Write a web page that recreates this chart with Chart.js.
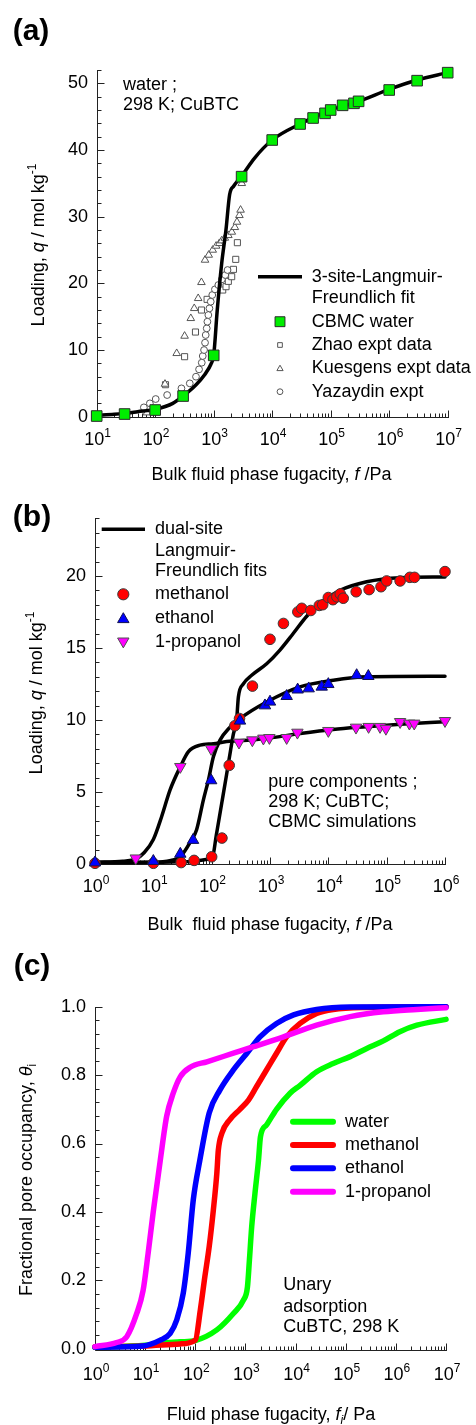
<!DOCTYPE html>
<html>
<head>
<meta charset="utf-8">
<title>CuBTC adsorption isotherms</title>
<script src="https://cdn.jsdelivr.net/npm/chart.js@4.4.1/dist/chart.umd.min.js"></script>
<style>
  html, body { margin: 0; padding: 0; background: #fff; }
  #page { position: relative; width: 476px; height: 1425px; overflow: hidden; }
  canvas { position: absolute; left: 0; }
</style>
</head>
<body>
<div id="page">
  <canvas id="chartA" width="476" height="500" style="top:0"></canvas>
  <canvas id="chartB" width="476" height="480" style="top:480px"></canvas>
  <canvas id="chartC" width="476" height="485" style="top:940px"></canvas>
</div>
<script>
// ---- (a) water in CuBTC ----
const aFitF = [10, 20, 30, 50, 100, 200, 300, 500, 700, 900, 1000, 1150, 1370, 1620, 1870, 2200, 3000, 5000, 10000, 30000, 100000, 300000, 1000000, 3000000, 10000000];
const aFitQ = [0.2, 0.35, 0.5, 0.75, 1.1, 2.0, 3.1, 4.8, 6.3, 7.9, 9.2, 16.0, 23.0, 28.0, 33.3, 34.6, 36.1, 38.8, 41.5, 43.9, 46.0, 47.3, 49.1, 50.5, 51.6];
const cbmcF = [10, 30, 100, 300, 1000, 3000, 10000, 30000, 50000, 80000, 100000, 160000, 250000, 300000, 1000000, 3000000, 10000000];
const cbmcQ = [0.1, 0.4, 1.0, 3.1, 9.2, 36.0, 41.5, 43.9, 44.8, 45.5, 46.0, 46.7, 47.0, 47.3, 49.0, 50.4, 51.6];
const zhaoF = [150, 318, 488, 617, 771, 1425, 1450, 1625, 1780, 2030, 2175, 2380, 2540];
const zhaoQ = [4.8, 9.0, 12.7, 16.0, 17.6, 19.0, 21.2, 19.5, 20.3, 21.0, 22.1, 23.6, 26.1];
const kuesF = [30, 72, 147, 233, 318, 406, 465, 543, 617, 711, 822, 962, 1100, 1250, 1370, 1550, 1780, 2040, 2300, 2500, 2750, 2880, 3020];
const kuesQ = [0.3, 0.6, 4.9, 9.5, 12.1, 14.75, 16.25, 17.75, 20.15, 23.5, 24.25, 25.0, 25.6, 26.0, 26.4, 26.8, 27.2, 27.7, 28.4, 29.2, 30.2, 31.0, 35.0];
const yazF = [32, 64, 81, 102, 160, 281, 390, 498, 562, 625, 650, 684, 711, 730, 760, 780, 810, 845, 890, 945, 1050, 1200, 1380, 1575, 1725];
const yazQ = [0.35, 1.4, 2.0, 2.65, 3.25, 4.25, 5.0, 6.0, 7.1, 8.1, 9.1, 10.0, 11.1, 12.25, 13.25, 14.25, 15.25, 16.25, 17.25, 18.25, 19.1, 19.75, 20.6, 21.25, 22.0];
const aYTicks = [0, 10, 20, 30, 40, 50];
const aXDecades = [1, 2, 3, 4, 5, 6, 7];

// ---- (b) alcohols, dual-site fits + CBMC ----
const methFitF = [1, 10, 50, 90, 104, 120, 150, 180, 210, 235, 268, 287, 349, 485, 877, 1480, 2500, 4260, 7200, 15800, 45400, 170000, 1000000];
const methFitQ = [0.1, 0.12, 0.2, 0.35, 0.5, 2.0, 4.3, 6.2, 7.85, 9.0, 10.0, 11.6, 12.5, 13.1, 13.9, 14.85, 16.0, 17.2, 18.1, 19.0, 19.6, 19.88, 19.93];
const ethFitF = [1, 10, 20, 29, 45, 55, 72, 88, 107, 139, 206, 306, 877, 3250, 12200, 45000, 1000000];
const ethFitQ = [0.1, 0.12, 0.25, 0.5, 1.66, 2.36, 4.44, 5.83, 7.44, 8.6, 9.5, 10.1, 11.25, 12.3, 12.76, 13.0, 13.04];
const propFitF = [1, 3, 5, 7, 10, 13.9, 19.3, 29, 40, 63, 107, 181, 300, 870, 3300, 12000, 45000, 170000, 1000000];
const propFitQ = [0.12, 0.2, 0.35, 0.8, 1.7, 3.3, 5.13, 6.75, 7.8, 8.25, 8.35, 8.5, 8.55, 8.72, 9.06, 9.34, 9.53, 9.7, 9.87];
const methF = [1, 10, 30, 50, 100, 150, 200, 250, 300, 500, 1000, 1700, 3000, 3500, 5000, 7000, 8000, 10000, 12000, 14000, 16000, 18000, 30000, 50000, 80000, 100000, 170000, 250000, 300000, 1000000];
const methQ = [0.05, 0.05, 0.1, 0.25, 0.5, 1.8, 6.85, 9.6, 10.1, 12.35, 15.6, 16.7, 17.5, 17.75, 17.6, 17.95, 18.0, 18.5, 18.35, 18.55, 18.75, 18.45, 18.9, 19.05, 19.25, 19.65, 19.65, 19.9, 19.9, 20.3];
const ethF = [1, 10, 29, 48, 98, 306, 820, 1000, 1930, 2980, 4600, 7700, 10000, 30600, 48500];
const ethQ = [0.1, 0.2, 0.7, 1.66, 5.8, 9.94, 11.0, 11.26, 11.65, 12.1, 12.18, 12.3, 12.48, 13.1, 13.04];
const propF = [5, 29, 98, 294, 498, 770, 976, 1930, 2950, 10000, 29800, 49000, 77000, 97000, 170000, 245000, 297000, 1000000];
const propQ = [0.4, 6.75, 8.0, 8.44, 8.6, 8.72, 8.76, 8.76, 9.13, 9.25, 9.48, 9.53, 9.53, 9.4, 9.87, 9.76, 9.76, 9.94];
const bYTicks = [0, 5, 10, 15, 20];
const bXDecades = [0, 1, 2, 3, 4, 5, 6];

// ---- (c) fractional pore occupancy ----
const cWaterF = [1, 10, 20, 50, 100, 269, 575, 912, 1096, 1202, 1334, 1549, 1820, 1995, 2630, 4170, 7760, 12300, 26300, 56200, 123000, 263000, 562000, 1200000, 2630000, 10000000];
const cWaterT = [0.004, 0.01, 0.016, 0.02, 0.024, 0.055, 0.103, 0.142, 0.18, 0.26, 0.357, 0.454, 0.55, 0.62, 0.654, 0.70, 0.747, 0.77, 0.81, 0.834, 0.854, 0.878, 0.90, 0.927, 0.946, 0.963];
const cMethF = [1, 9, 50, 100, 126, 155, 190, 229, 269, 288, 339, 490, 776, 1150, 1660, 2630, 4170, 6610, 12300, 26300, 56200, 263000, 10000000];
const cMethT = [0.006, 0.008, 0.014, 0.025, 0.113, 0.21, 0.30, 0.405, 0.513, 0.58, 0.63, 0.67, 0.70, 0.727, 0.766, 0.815, 0.864, 0.912, 0.951, 0.98, 0.992, 0.998, 1.0];
const cEthF = [1, 9, 20, 31.6, 42.7, 57.5, 72.4, 91.2, 123, 190, 309, 575, 1070, 1950, 4170, 9120, 26300, 123000, 10000000];
const cEthT = [0.004, 0.008, 0.025, 0.045, 0.084, 0.162, 0.28, 0.435, 0.55, 0.69, 0.756, 0.815, 0.864, 0.912, 0.951, 0.976, 0.992, 0.999, 1.0];
const cPropF = [1, 2.7, 4.3, 6.8, 9.1, 11.5, 14.5, 20, 26.9, 36.3, 50, 79, 170, 575, 1450, 5750, 26300, 123000, 562000, 2630000, 10000000];
const cPropT = [0.006, 0.018, 0.035, 0.103, 0.17, 0.28, 0.40, 0.55, 0.68, 0.747, 0.795, 0.823, 0.839, 0.864, 0.883, 0.912, 0.946, 0.971, 0.985, 0.992, 0.997];
const cYTicks = [0, 0.2, 0.4, 0.6, 0.8, 1.0];
const cXDecades = [0, 1, 2, 3, 4, 5, 6, 7];

const FONT = '"Liberation Sans", Arial, Helvetica, sans-serif';
const pts = (xs, ys) => xs.map((x, i) => ({ x: x, y: ys[i] }));

function fnt(size, italic, bold) {
  return (italic ? 'italic ' : '') + (bold ? 'bold ' : '') + size + 'px ' + FONT;
}

// text made of runs: {t, i: italic, sup, sub}
function drawRuns(ctx, runs, x, y, size, align) {
  const parts = runs.map(r => {
    const s = (r.sup || r.sub) ? Math.round(size * 0.66) : size;
    ctx.font = fnt(s, r.i, r.b);
    return { r: r, s: s, w: ctx.measureText(r.t).width };
  });
  const total = parts.reduce((acc, p) => acc + p.w, 0);
  let cx = align === 'center' ? x - total / 2 : (align === 'right' ? x - total : x);
  ctx.textAlign = 'left';
  ctx.textBaseline = 'middle';
  parts.forEach(p => {
    ctx.font = fnt(p.s, p.r.i, p.r.b);
    const dy = p.r.sup ? -size * 0.36 : (p.r.sub ? size * 0.32 : 0);
    ctx.fillText(p.r.t, cx, y + dy);
    cx += p.w;
  });
}

function drawMarker(ctx, m) {
  const r = m.r;
  ctx.beginPath();
  if (m.style === 'rect') {
    const s = r * Math.SQRT1_2;
    ctx.rect(m.x - s, m.y - s, 2 * s, 2 * s);
  } else if (m.style === 'circle') {
    ctx.arc(m.x, m.y, r, 0, Math.PI * 2);
  } else {
    const sg = m.down ? -1 : 1;
    ctx.moveTo(m.x, m.y - sg * r);
    ctx.lineTo(m.x + r * 0.866, m.y + sg * r / 2);
    ctx.lineTo(m.x - r * 0.866, m.y + sg * r / 2);
    ctx.closePath();
  }
  ctx.fillStyle = m.fill;
  ctx.fill();
  ctx.lineWidth = 1;
  ctx.strokeStyle = m.stroke;
  ctx.stroke();
}

const framePlugin = {
  id: 'frame',
  beforeDatasetsDraw(chart, args, o) {
    const ctx = chart.ctx, a = chart.chartArea, xs = chart.scales.x, ys = chart.scales.y;
    const left = Math.round(a.left) + 0.5;
    const yb = Math.round(a.bottom + (o.xAxisDrop || 0)) + 0.5;
    ctx.save();
    ctx.strokeStyle = '#222';
    ctx.lineWidth = 1;
    ctx.beginPath();
    ctx.moveTo(left, Math.round(a.top));
    ctx.lineTo(left, yb);
    ctx.lineTo(Math.round(a.right) + 1, yb);
    // inward ticks on y
    const n = Math.round((ys.max - ys.min) / o.yMinor);
    for (let k = 0; k <= n; k++) {
      const v = ys.min + k * o.yMinor;
      const py = Math.round(ys.getPixelForValue(v)) + 0.5;
      const major = o.yTicks.some(t => Math.abs(t - v) < 1e-6);
      ctx.moveTo(left, py);
      ctx.lineTo(left + (major ? 7 : 4), py);
    }
    // inward log ticks on x
    o.xDecades.forEach((e, i) => {
      for (let k = 1; k <= 9; k++) {
        if (k > 1 && i === o.xDecades.length - 1) break;
        const px = Math.round(xs.getPixelForValue(k * Math.pow(10, e))) + 0.5;
        ctx.moveTo(px, yb);
        ctx.lineTo(px, yb - (k === 1 ? 7 : 4));
      }
    });
    ctx.stroke();

    ctx.fillStyle = '#000';
    // y tick labels
    o.yTicks.forEach(t => {
      ctx.font = fnt(18);
      ctx.textAlign = 'right';
      ctx.textBaseline = 'middle';
      ctx.fillText(t.toFixed(o.yDigits || 0), left - 9.5, ys.getPixelForValue(t));
    });
    // x tick labels 10^n
    o.xDecades.forEach(e => {
      const px = xs.getPixelForValue(Math.pow(10, e));
      drawRuns(ctx, [{ t: '10' }, { t: String(e), sup: true }], px + 1, a.bottom + o.xLabelDy, 18, 'center');
    });
    ctx.restore();
  },
  afterDatasetsDraw(chart, args, o) {
    const ctx = chart.ctx;
    ctx.save();
    ctx.fillStyle = '#000';
    // axis titles
    drawRuns(ctx, o.xTitle, o.xTitlePos[0], o.xTitlePos[1], 18, 'center');
    ctx.save();
    ctx.translate(o.yTitlePos[0], o.yTitlePos[1]);
    ctx.rotate(-Math.PI / 2);
    drawRuns(ctx, o.yTitle, 0, 0, 18, 'center');
    ctx.restore();
    // panel letter
    ctx.font = fnt(30, false, true);
    ctx.textAlign = 'center';
    ctx.textBaseline = 'middle';
    ctx.fillText(o.panel, o.panelPos[0], o.panelPos[1]);
    // notes
    o.notes.forEach(s => {
      ctx.fillStyle = '#000';
      drawRuns(ctx, [{ t: s.t }], s.x, s.y, 18, 'left');
    });
    // legend
    o.legend.forEach(it => {
      if (it.line) {
        ctx.beginPath();
        ctx.strokeStyle = it.line.color;
        ctx.lineWidth = it.line.width;
        ctx.lineCap = it.line.cap || 'butt';
        ctx.moveTo(it.line.x1, it.line.y);
        ctx.lineTo(it.line.x2, it.line.y);
        ctx.stroke();
      }
      if (it.marker) drawMarker(ctx, it.marker);
      if (it.t) {
        ctx.fillStyle = '#000';
        drawRuns(ctx, [{ t: it.t }], it.x, it.y, 18, 'left');
      }
    });
    ctx.restore();
  }
};

function lineSet(data, color, width, order) {
  return {
    data: data, showLine: true, pointRadius: 0, borderColor: color, borderWidth: width,
    cubicInterpolationMode: 'monotone', borderCapStyle: 'round', borderJoinStyle: 'round',
    fill: false, clip: false, order: order
  };
}

function markSet(data, style, r, fill, stroke, order, rot) {
  return {
    data: data, showLine: false, pointStyle: style, pointRadius: r, pointRotation: rot || 0,
    backgroundColor: fill, borderColor: stroke, borderWidth: 1, clip: false, order: order
  };
}

function makeChart(id, datasets, xr, yr, pad, frame) {
  return new Chart(document.getElementById(id), {
    type: 'scatter',
    data: { datasets: datasets },
    options: {
      responsive: false,
      animation: false,
      devicePixelRatio: 1,
      layout: { padding: pad },
      plugins: { legend: { display: false }, tooltip: { enabled: false }, frame: frame },
      scales: {
        x: { type: 'logarithmic', min: xr[0], max: xr[1], display: false },
        y: { type: 'linear', min: yr[0], max: yr[1], display: false }
      }
    },
    plugins: [framePlugin]
  });
}

// (a)
makeChart('chartA', [
  markSet(pts(cbmcF, cbmcQ), 'rect', 7.5, '#00ee00', '#2a2a2a', 0),
  lineSet(pts(aFitF, aFitQ), '#000', 3.5, 1),
  markSet(pts(yazF, yazQ), 'circle', 3.4, '#fff', '#555', 2),
  markSet(pts(kuesF, kuesQ), 'triangle', 4.4, '#fff', '#555', 3),
  markSet(pts(zhaoF, zhaoQ), 'rect', 4.3, '#fff', '#555', 4)
], [10, 1e7], [0, 52], { left: 96.7, top: 70, right: 28.3, bottom: 83.3 }, {
  yTicks: aYTicks, yMinor: 2, xDecades: aXDecades, xLabelDy: 23.3,
  xTitle: [{ t: 'Bulk fluid phase fugacity, ' }, { t: 'f', i: true }, { t: ' /Pa' }], xTitlePos: [271.5, 475],
  yTitle: [{ t: 'Loading, ' }, { t: 'q', i: true }, { t: ' / mol kg' }, { t: '-1', sup: true }], yTitlePos: [39, 245],
  panel: '(a)', panelPos: [31, 31.7],
  notes: [{ t: 'water ;', x: 123, y: 85 }, { t: '298 K; CuBTC', x: 123, y: 105 }],
  legend: [
    { line: { x1: 258, x2: 302, y: 276.7, color: '#000', width: 3.5 }, t: '3-site-Langmuir-', x: 311.7, y: 276.7 },
    { t: 'Freundlich fit', x: 311.7, y: 297.7 },
    { marker: { style: 'rect', x: 280, y: 321.7, r: 7, fill: '#00ee00', stroke: '#2a2a2a' }, t: 'CBMC water', x: 311.7, y: 321.7 },
    { marker: { style: 'rect', x: 280, y: 345, r: 3.3, fill: '#fff', stroke: '#555' }, t: 'Zhao expt data', x: 311.7, y: 345 },
    { marker: { style: 'triangle', x: 280, y: 368.8, r: 3.6, fill: '#fff', stroke: '#555' }, t: 'Kuesgens expt data', x: 311.7, y: 368.3 },
    { marker: { style: 'circle', x: 280, y: 391.7, r: 2.9, fill: '#fff', stroke: '#555' }, t: 'Yazaydin expt', x: 311.7, y: 391.7 }
  ]
});

// (b)
makeChart('chartB', [
  markSet(pts(ethF, ethQ), 'triangle', 6.6, '#0000ff', '#101050', 0),
  markSet(pts(propF, propQ), 'triangle', 6.6, '#ff00ff', '#505050', 1, 180),
  markSet(pts(methF, methQ), 'circle', 5.3, '#ff0000', '#3a3a3a', 2),
  lineSet(pts(methFitF, methFitQ), '#000', 3.5, 3),
  lineSet(pts(ethFitF, ethFitQ), '#000', 3.5, 4),
  lineSet(pts(propFitF, propFitQ), '#000', 3.5, 5)
], [1, 1e6], [0, 24], { left: 95, top: 38.3, right: 31, bottom: 96 }, {
  yTicks: bYTicks, yMinor: 1, xDecades: bXDecades, xLabelDy: 22.7,
  xTitle: [{ t: 'Bulk  fluid phase fugacity, ' }, { t: 'f', i: true }, { t: ' /Pa' }], xTitlePos: [270, 445],
  yTitle: [{ t: 'Loading, ' }, { t: 'q', i: true }, { t: ' / mol kg' }, { t: '-1', sup: true }], yTitlePos: [37, 213],
  panel: '(b)', panelPos: [32, 37.5],
  notes: [
    { t: 'pure components ;', x: 268.3, y: 301.7 },
    { t: '298 K; CuBTC;', x: 268.3, y: 321.7 },
    { t: 'CBMC simulations', x: 268.3, y: 342.3 }
  ],
  legend: [
    { line: { x1: 101.7, x2: 145, y: 49.3, color: '#000', width: 3.5 }, t: 'dual-site', x: 155, y: 49.3 },
    { t: 'Langmuir-', x: 155, y: 71 },
    { t: 'Freundlich fits', x: 155, y: 90.7 },
    { marker: { style: 'circle', x: 123.3, y: 114.3, r: 5.6, fill: '#ff0000', stroke: '#3a3a3a' }, t: 'methanol', x: 155, y: 114.3 },
    { marker: { style: 'triangle', x: 123.3, y: 139.3, r: 6.6, fill: '#0000ff', stroke: '#101050' }, t: 'ethanol', x: 155, y: 138.3 },
    { marker: { style: 'triangle', x: 123.3, y: 161.3, r: 6.6, fill: '#ff00ff', stroke: '#505050', down: true }, t: '1-propanol', x: 155, y: 162.3 }
  ]
});

// (c)
makeChart('chartC', [
  lineSet(pts(cPropF, cPropT), '#ff00ff', 5.5, 0),
  lineSet(pts(cEthF, cEthT), '#0000ff', 5.5, 1),
  lineSet(pts(cMethF, cMethT), '#ff0000', 5.5, 2),
  lineSet(pts(cWaterF, cWaterT), '#00ff00', 5.5, 3)
], [1, 1e7], [0, 1], { left: 95, top: 66.7, right: 30, bottom: 76.3 }, {
  yTicks: cYTicks, yMinor: 0.04, yDigits: 1, xDecades: cXDecades, xLabelDy: 26.5, xAxisDrop: 1.5,
  xTitle: [{ t: 'Fluid phase fugacity, ' }, { t: 'f', i: true }, { t: 'i', sub: true, i: true }, { t: '/ Pa' }], xTitlePos: [271, 475],
  yTitle: [{ t: 'Fractional pore occupancy, ' }, { t: '\u03b8', i: true }, { t: 'i', sub: true }], yTitlePos: [27, 240],
  panel: '(c)', panelPos: [32, 27],
  notes: [
    { t: 'Unary', x: 283.3, y: 345 },
    { t: 'adsorption', x: 283.3, y: 366.7 },
    { t: 'CuBTC, 298 K', x: 283.3, y: 386.7 }
  ],
  legend: [
    { line: { x1: 293, x2: 333, y: 181.7, color: '#00ff00', width: 6, cap: 'round' }, t: 'water', x: 345, y: 181.7 },
    { line: { x1: 293, x2: 333, y: 205, color: '#ff0000', width: 6, cap: 'round' }, t: 'methanol', x: 345, y: 205 },
    { line: { x1: 293, x2: 333, y: 228.3, color: '#0000ff', width: 6, cap: 'round' }, t: 'ethanol', x: 345, y: 228.3 },
    { line: { x1: 293, x2: 333, y: 251.7, color: '#ff00ff', width: 6, cap: 'round' }, t: '1-propanol', x: 345, y: 251.7 }
  ]
});
</script>
</body>
</html>
